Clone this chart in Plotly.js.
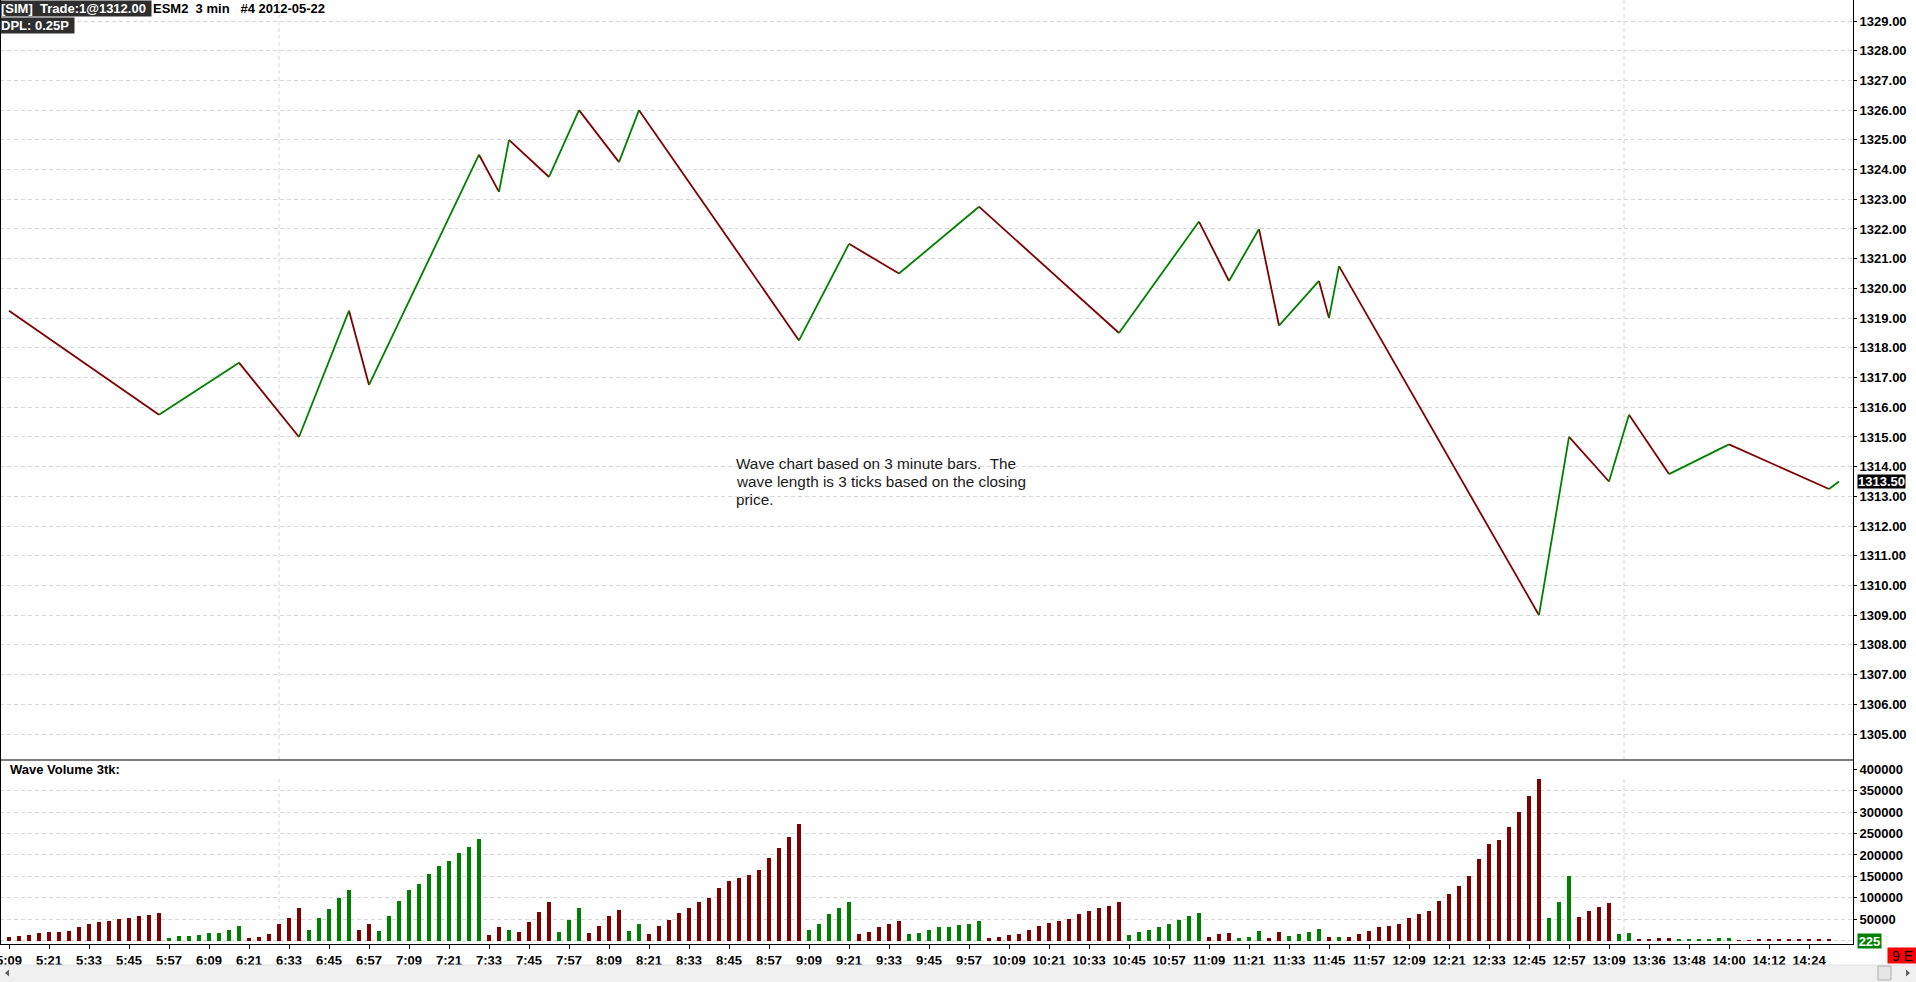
<!DOCTYPE html>
<html>
<head>
<meta charset="utf-8">
<script src="https://cdn.plot.ly/plotly-3.0.1.min.js"></script>
<style>
  html, body { margin: 0; padding: 0; background: #fff; }
  #chart { width: 1916px; height: 982px; }
</style>
</head>
<body>
<div id="chart"></div>
<script>
// ---- Data ----
// Bar index of each wave pivot (3-minute bars, index 0 = 5:09)
const pivotIndex = [0, 15, 23, 29, 34, 36, 47, 49, 50, 54, 57, 61, 63, 79, 84, 89, 97, 111, 119, 122,
                    125, 127, 131, 132, 133, 153, 156, 160, 162, 166, 172, 182, 183];
// Closing price at each pivot
const pivotPrice = [1319.25, 1315.75, 1317.5, 1315.0, 1319.25, 1316.75, 1324.5, 1323.25, 1325.0, 1323.75,
                    1326.0, 1324.25, 1326.0, 1318.25, 1321.5, 1320.5, 1322.75, 1318.5, 1322.25, 1320.25,
                    1322.0, 1318.75, 1320.25, 1319.0, 1320.75, 1309.0, 1315.0, 1313.5, 1315.75, 1313.75,
                    1314.75, 1313.25, 1313.5];
// Cumulative wave volume per bar
const waveVolume = [
  8600, 11000, 13000, 18000, 20000, 20000, 23000, 32000, 39000, 44000, 46000, 51000, 53000, 58000, 60000, 65000,
  6000, 11000, 11000, 13000, 18000, 18000, 25000, 34000,
  6000, 9000, 16000, 39000, 53000, 76000,
  25000, 53000, 74000, 100000, 118000,
  25000, 39000,
  23000, 58000, 93000, 118000, 132000, 156000, 174000, 186000, 205000, 218000, 237000,
  13000, 32000,
  25000,
  20000, 44000, 67000, 90000,
  20000, 48000, 76000,
  18000, 34000, 58000, 72000,
  23000, 39000,
  16000, 34000, 48000, 65000, 76000, 90000, 100000, 123000, 139000, 146000, 153000, 165000, 193000, 216000, 242000, 272000,
  25000, 39000, 62000, 76000, 90000,
  16000, 20000, 32000, 39000, 46000,
  16000, 18000, 25000, 32000, 32000, 37000, 39000, 46000,
  6000, 9000, 13000, 16000, 25000, 34000, 41000, 46000, 51000, 62000, 69000, 76000, 81000, 90000,
  13000, 20000, 25000, 32000, 39000, 48000, 58000, 65000,
  9000, 16000, 18000,
  6000, 9000, 23000,
  6000, 20000,
  11000, 16000, 20000, 27000,
  9000,
  9000,
  9000, 16000, 23000, 32000, 34000, 39000, 53000, 62000, 69000, 93000, 109000, 128000, 151000, 191000, 226000, 235000, 265000, 300000, 337000, 377000,
  53000, 90000, 151000,
  55000, 69000, 79000, 88000,
  16000, 18000,
  4000, 4000, 6000, 6000,
  4000, 4000, 4000, 4000, 6000, 6000,
  2000, 2000, 4000, 4000, 4000, 4000, 4000, 4000, 4000, 4000,
  225
];
// Time-axis labels, one every 4 bars
const tickLabels = ['5:09','5:21','5:33','5:45','5:57','6:09','6:21','6:33','6:45','6:57',
  '7:09','7:21','7:33','7:45','7:57','8:09','8:21','8:33','8:45','8:57',
  '9:09','9:21','9:33','9:45','9:57','10:09','10:21','10:33','10:45','10:57',
  '11:09','11:21','11:33','11:45','11:57','12:09','12:21','12:33','12:45','12:57',
  '13:09','13:36','13:48','14:00','14:12','14:24'];
const tickStep = 4;
// Session breaks (bar index position of the vertical dotted lines)
const sessionBreaks = [27, 161.5];
const lastPrice = 1313.50;
const lastVolume = 225;

// ---- Styles ----
const UP = '#008000', DOWN = '#800000';
const FONT = 'Liberation Sans, Arial, sans-serif';
const GRID = '#d6d6d6';

// ---- Build traces ----
const upX = [], upY = [], dnX = [], dnY = [];
for (let i = 0; i < pivotIndex.length - 1; i++) {
  const up = pivotPrice[i + 1] > pivotPrice[i];
  const X = up ? upX : dnX, Y = up ? upY : dnY;
  X.push(pivotIndex[i], pivotIndex[i + 1], null);
  Y.push(pivotPrice[i], pivotPrice[i + 1], null);
}
const barX = waveVolume.map((_, k) => k);
const barColor = waveVolume.map((_, k) => {
  let seg = 0;
  while (seg < pivotIndex.length - 2 && k > pivotIndex[seg + 1]) seg++;
  return pivotPrice[seg + 1] > pivotPrice[seg] ? UP : DOWN;
});

const traces = [
  { type: 'scatter', mode: 'markers', x: [0], y: [0], xaxis: 'x', yaxis: 'y3',
    marker: { opacity: 0 }, hoverinfo: 'skip' },
  { type: 'scatter', mode: 'lines', x: dnX, y: dnY, xaxis: 'x', yaxis: 'y',
    line: { color: DOWN, width: 1.8 }, hoverinfo: 'skip' },
  { type: 'scatter', mode: 'lines', x: upX, y: upY, xaxis: 'x', yaxis: 'y',
    line: { color: UP, width: 1.8 }, hoverinfo: 'skip' },
  { type: 'bar', x: barX, y: waveVolume, xaxis: 'x', yaxis: 'y2', width: 0.33,
    marker: { color: barColor, line: { width: 0 } }, hoverinfo: 'skip' }
];

// ---- Geometry helpers (pixel -> paper) ----
const PW = 1853, PH = 944;
const px = v => v / PW;
const py = v => (PH - v) / PH;
const SPLIT = py(760);

const tickFont = { family: FONT, size: 13, color: '#000', weight: 'bold' };

const shapes = [];
sessionBreaks.forEach(b => {
  shapes.push({ type: 'line', xref: 'x', yref: 'paper', x0: b, x1: b, y0: SPLIT, y1: 1,
    line: { color: GRID, width: 1, dash: '4px,3px' }, layer: 'below' });
  shapes.push({ type: 'line', xref: 'x', yref: 'paper', x0: b, x1: b, y0: 0, y1: py(777),
    line: { color: GRID, width: 1, dash: '4px,3px' }, layer: 'below' });
});
shapes.push({ type: 'line', xref: 'paper', yref: 'paper', x0: 0, x1: 0, y0: 0, y1: 1, line: { color: '#000', width: 2 } });
shapes.push({ type: 'line', xref: 'paper', yref: 'paper', x0: 0, x1: 1, y0: SPLIT, y1: SPLIT, line: { color: '#000', width: 1.2 } });
shapes.push({ type: 'rect', xref: 'paper', yref: 'paper', x0: 0, x1: px(1916), y0: py(982), y1: py(965),
  fillcolor: '#f0f0f0', line: { width: 0 } });
shapes.push({ type: 'line', xref: 'paper', yref: 'paper', x0: 0, x1: px(1916), y0: py(965), y1: py(965),
  line: { color: '#e2e2e2', width: 1 } });
shapes.push({ type: 'rect', xref: 'paper', yref: 'paper', x0: px(1878), x1: px(1891), y0: py(980), y1: py(966),
  fillcolor: '#e6e6e6', line: { color: '#acacac', width: 1 } });
shapes.push({ type: 'path', xref: 'paper', yref: 'paper',
  path: `M ${px(5)} ${py(973)} L ${px(9)} ${py(969.5)} L ${px(9)} ${py(976.5)} Z`,
  fillcolor: '#606060', line: { width: 0 } });
shapes.push({ type: 'path', xref: 'paper', yref: 'paper',
  path: `M ${px(1910)} ${py(973)} L ${px(1906)} ${py(969.5)} L ${px(1906)} ${py(976.5)} Z`,
  fillcolor: '#606060', line: { width: 0 } });

const NB = '\u00A0';
const annotations = [
  { xref: 'paper', yref: 'paper', x: 0, y: 1, xanchor: 'left', yanchor: 'top',
    text: '[SIM]' + NB + NB + 'Trade:1@1312.00', showarrow: false, bgcolor: '#2e2e2e',
    width: 150, height: 15, align: 'left', borderpad: 0,
    font: { family: FONT, size: 13, color: '#fff', weight: 'bold' } },
  { xref: 'paper', yref: 'paper', x: px(152), y: 1, xanchor: 'left', yanchor: 'top',
    text: 'ESM2' + NB + NB + '3 min' + NB + NB + NB + '#4 2012-05-22', showarrow: false,
    height: 15, borderpad: 0, font: { family: FONT, size: 13, color: '#000', weight: 'bold' } },
  { xref: 'paper', yref: 'paper', x: 0, y: py(17), xanchor: 'left', yanchor: 'top',
    text: 'DPL: 0.25P', showarrow: false, bgcolor: '#2e2e2e',
    width: 73, height: 15, align: 'left', borderpad: 0,
    font: { family: FONT, size: 13, color: '#fff', weight: 'bold' } },
  { xref: 'paper', yref: 'paper', x: px(9), y: py(769), xanchor: 'left', yanchor: 'middle',
    text: 'Wave Volume 3tk:', showarrow: false, borderpad: 0,
    font: { family: FONT, size: 13, color: '#000', weight: 'bold' } },
  { xref: 'paper', yref: 'paper', x: px(735), y: py(463), xanchor: 'left', yanchor: 'middle',
    text: 'Wave chart based on 3 minute bars.' + NB + NB + 'The', showarrow: false, borderpad: 0,
    font: { family: FONT, size: 15.3, color: '#1a1a1a' } },
  { xref: 'paper', yref: 'paper', x: px(735), y: py(481), xanchor: 'left', yanchor: 'middle',
    text: 'wave length is 3 ticks based on the closing', showarrow: false, borderpad: 0,
    font: { family: FONT, size: 15.3, color: '#1a1a1a' } },
  { xref: 'paper', yref: 'paper', x: px(735), y: py(499), xanchor: 'left', yanchor: 'middle',
    text: 'price.', showarrow: false, borderpad: 0,
    font: { family: FONT, size: 15.3, color: '#1a1a1a' } },
  { xref: 'paper', yref: 'y', x: px(1857), y: lastPrice, xanchor: 'left', yanchor: 'middle',
    text: lastPrice.toFixed(2), showarrow: false, bgcolor: '#000', width: 47, height: 13, borderpad: 0,
    font: { family: FONT, size: 13, color: '#fff', weight: 'bold' } },
  { xref: 'paper', yref: 'y2', x: px(1857), y: lastVolume, xanchor: 'left', yanchor: 'middle',
    text: String(lastVolume), showarrow: false, bgcolor: '#008000', width: 23, height: 14, borderpad: 0,
    font: { family: FONT, size: 13, color: '#fff', weight: 'bold' } },
  { xref: 'paper', yref: 'paper', x: px(1887), y: py(955.5), xanchor: 'left', yanchor: 'middle',
    text: '9 E', showarrow: false, bgcolor: '#ff0000', width: 29, height: 15, borderpad: 0,
    font: { family: FONT, size: 14, color: '#000' } }
];

const volTicks = [50000, 100000, 150000, 200000, 250000, 300000, 350000, 400000];
const volGrid = [0, 50000, 100000, 150000, 200000, 250000, 300000, 350000];

const layout = {
  width: 1916, height: 982,
  margin: { l: 0, r: 63, t: 0, b: 38, pad: 0 },
  paper_bgcolor: '#ffffff', plot_bgcolor: '#ffffff',
  showlegend: false, bargap: 0, hovermode: false,
  xaxis: {
    range: [-0.9, 184.4], anchor: 'y2',
    tickvals: tickLabels.map((_, i) => i * tickStep), ticktext: tickLabels,
    ticks: 'outside', ticklen: 4, tickcolor: '#000', tickwidth: 1,
    ticklabeloverflow: 'allow',
    showgrid: false, zeroline: false, showline: true, linecolor: '#000', linewidth: 1,
    tickfont: tickFont, fixedrange: true
  },
  yaxis: {
    domain: [SPLIT, 1], range: [1304.127, 1329.707], anchor: 'x', side: 'right',
    tick0: 1305, dtick: 1, tickformat: '.2f',
    ticks: 'outside', ticklen: 3, tickcolor: '#000',
    showgrid: true, gridcolor: GRID, gridwidth: 1, griddash: '4px,3px',
    zeroline: false, showline: true, linecolor: '#000', linewidth: 1,
    tickfont: tickFont, fixedrange: true
  },
  yaxis2: {
    domain: [0, SPLIT], range: [-7700, 421500], anchor: 'x', side: 'right',
    tickvals: volTicks, tickformat: 'd',
    ticks: 'outside', ticklen: 3, tickcolor: '#000',
    showgrid: false, zeroline: false, showline: true, linecolor: '#000', linewidth: 1,
    tickfont: tickFont, fixedrange: true
  },
  yaxis3: {
    overlaying: 'y2', range: [-7700, 421500], anchor: 'x', side: 'right',
    tickvals: volGrid, showticklabels: false, ticks: '',
    showgrid: true, gridcolor: GRID, gridwidth: 1, griddash: '4px,3px',
    zeroline: false, showline: false, fixedrange: true
  },
  shapes: shapes,
  annotations: annotations
};

Plotly.newPlot('chart', traces, layout, { displayModeBar: false, staticPlot: true });
</script>
</body>
</html>
